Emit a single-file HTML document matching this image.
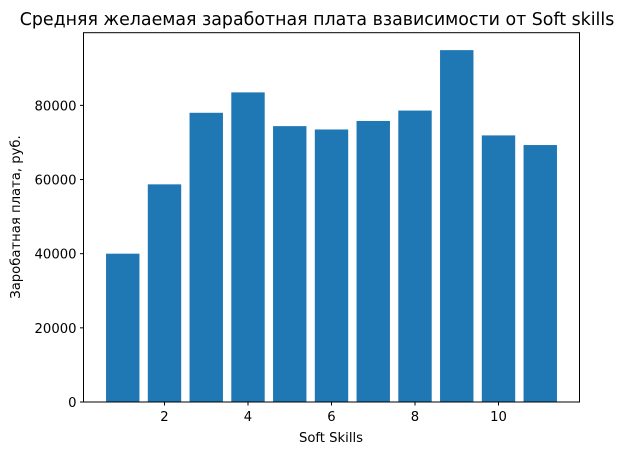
<!DOCTYPE html>
<html><head><meta charset="utf-8"><style>
body{margin:0;background:#fff;}
svg text{font-family:"DejaVu Sans","Liberation Sans",sans-serif;fill:#000;}
</style></head><body>
<svg width="625" height="455" viewBox="0 0 625 455">
<text x="317" y="25" font-size="17.4" text-anchor="middle">Средняя желаемая заработная плата взависимости от Soft skills</text>
<g id="bars"></g>
<g id="axes"></g>
<text x="331" y="442" font-size="13.2" text-anchor="middle">Soft Skills</text>
<text transform="translate(20,217) rotate(-90)" font-size="13.2" text-anchor="middle">Заробатная плата, руб.</text>
</svg>
<script>
const categories=[1,2,3,4,5,6,7,8,9,10,11];
const salaries=[40000,58700,78000,83500,74400,73500,75800,78600,94900,71900,69300];
const xTicks=[2,4,6,8,10];
const yTicks=[0,20000,40000,60000,80000];
const L=83.5,R=579.5,T=32.7,B=402;
const xMin=0.06,xMax=11.94,yMax=99600;
const sx=v=>L+(v-xMin)/(xMax-xMin)*(R-L);
const sy=v=>B-v/yMax*(B-T);
const NS="http://www.w3.org/2000/svg";
const bars=document.getElementById('bars');
const axes=document.getElementById('axes');
function mk(tag,attrs,parent){const e=document.createElementNS(NS,tag);for(const k in attrs)e.setAttribute(k,attrs[k]);parent.appendChild(e);return e;}
categories.forEach((c,i)=>{
  const x0=sx(c-0.4),x1=sx(c+0.4);
  const r=mk('rect',{x:x0,y:sy(salaries[i]),width:x1-x0,height:B-sy(salaries[i]),fill:'#1f77b4'},bars);
  
  
});
const frame=mk('rect',{x:L,y:T,width:R-L,height:B-T,fill:'none',stroke:'#000','stroke-width':1},axes);


xTicks.forEach(t=>{
  mk('line',{x1:sx(t),x2:sx(t),y1:B,y2:B+3.5,stroke:'#000'},axes);
  const tx=mk('text',{x:sx(t),y:B+19,'font-size':13.2,'text-anchor':'middle'},axes);
  tx.textContent=t;
  
  
});
yTicks.forEach(t=>{
  mk('line',{x1:L-3.5,x2:L,y1:sy(t),y2:sy(t),stroke:'#000'},axes);
  const tx=mk('text',{x:L-7,y:sy(t)+5,'font-size':13.2,'text-anchor':'end'},axes);
  tx.textContent=t;
  
  
});
</script>
</body></html>
